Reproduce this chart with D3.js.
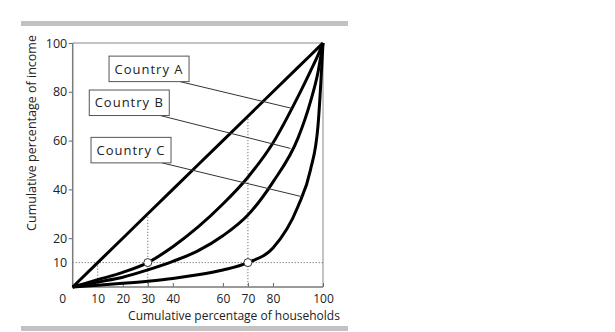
<!DOCTYPE html>
<html>
<head>
<meta charset="utf-8">
<script src="https://cdn.jsdelivr.net/npm/d3@7"></script>
<style>
  html, body { margin: 0; padding: 0; background: #fff; }
  svg { display: block; }
  text { font-family: "Open Sans", "DejaVu Sans", sans-serif; fill: #222; }
</style>
</head>
<body>
<svg id="chart" width="615" height="332"></svg>
<script>
// ---- data ----
const xPct = [0, 10, 20, 30, 40, 50, 60, 70, 80, 90, 95, 98, 100];
const equality = [0, 10, 20, 30, 40, 50, 60, 70, 80, 90, 95, 98, 100];
const countryA = [0, 3, 6, 10, 16.5, 24.5, 34, 45, 59, 78, 88.5, 95, 100];
const countryB = [0, 2, 4, 7, 10.5, 14.8, 21, 29.5, 43, 61, 76, 88, 100];
const countryC = [0, 0.7, 1.5, 2.4, 3.5, 5, 7, 10, 16, 33, 48, 66, 100];

const countryNames = ["Country A", "Country B", "Country C"];
const labelBoxX = [30.5, 22.6, 23.3];      // box centres (data units)
const labelBoxY = [89.4, 75.5, 56.1];
const labelTargetX = [87.6, 87.0, 91.6];   // leader-line ends on each curve
const labelTargetY = [73.2, 56.8, 37.0];

const xTicks = [10, 20, 30, 40, 60, 70, 80, 100];
const yTicks = [10, 20, 40, 60, 80, 100];
const guideX = [10, 30, 70];               // dotted drops to the x-axis
const guideY = 10;                         // dotted horizontal at 10%
const markX = [30, 70];                    // open circles
const markY = [10, 10];

const xTitle = "Cumulative percentage of households";
const yTitle = "Cumulative percentage of income";

// ---- layout ----
const svg = d3.select("#chart");
const x = d3.scaleLinear().domain([0, 100]).range([72.7, 323]);
const y = d3.scaleLinear().domain([0, 100]).range([287, 43]);
const FS = 12;

// grey rules top and bottom
svg.append("rect").attr("x", 21).attr("y", 21).attr("width", 327).attr("height", 5).attr("fill", "#c2c2c2");
svg.append("rect").attr("x", 21).attr("y", 326).attr("width", 327).attr("height", 5).attr("fill", "#c2c2c2");

// frame (top & right)
svg.append("path")
  .attr("d", `M${x(0)},${y(100)}H${x(100)}V${y(0)}`)
  .attr("fill", "none").attr("stroke", "#8a8a8a").attr("stroke-width", 1);

// dotted guides
const g = svg.append("g").attr("stroke", "#555").attr("stroke-width", 1).attr("stroke-dasharray", "1,2").attr("fill", "none");
g.append("line").attr("x1", x(0)).attr("x2", x(100)).attr("y1", y(guideY)).attr("y2", y(guideY));
g.selectAll("line.v").data(guideX).join("line").attr("class", "v")
  .attr("x1", d => x(d)).attr("x2", d => x(d)).attr("y1", d => y(d)).attr("y2", y(0));

// axes
const yAxis = d3.axisLeft(y).tickValues(yTicks).tickSize(4).tickPadding(1.5).tickFormat(d3.format("d"));
const yg = svg.append("g").attr("transform", `translate(${x(0)},0)`).call(yAxis);
yg.select(".domain").remove();
yg.selectAll(".tick line").attr("stroke", "#666").filter(d => d === 10).remove();
yg.selectAll(".tick text").attr("font-size", 12.5).attr("font-family", "Open Sans, sans-serif").attr("fill", "#222");

const xAxis = d3.axisBottom(x).tickValues(xTicks).tickSizeInner(-4).tickSizeOuter(0).tickPadding(7).tickFormat(d3.format("d"));
const xg = svg.append("g").attr("transform", `translate(0,${y(0)})`).call(xAxis);
xg.select(".domain").remove();
xg.selectAll(".tick line").attr("stroke", "#666");
xg.selectAll(".tick text").attr("font-size", FS).attr("font-family", "Open Sans, sans-serif").attr("fill", "#222")
  .attr("y", 16).attr("dy", null);

svg.append("text").attr("x", x(0) - 10).attr("y", y(0) + 16)
  .attr("text-anchor", "middle").attr("font-size", FS).text("0");

// axis lines (left & bottom)
svg.append("path")
  .attr("d", `M${x(0)},${y(100)}V${y(0)}H${x(100)}`)
  .attr("fill", "none").attr("stroke", "#7a7a7a").attr("stroke-width", 1.5);

// curves
const line = d3.line().x((d, i) => x(xPct[i])).y(d => y(d)).curve(d3.curveMonotoneX);
const straight = d3.line().x((d, i) => x(xPct[i])).y(d => y(d));
svg.append("path").datum(equality).attr("d", straight)
  .attr("fill", "none").attr("stroke", "#000").attr("stroke-width", 3);
[countryA, countryB, countryC].forEach(s => {
  svg.append("path").datum(s).attr("d", line)
    .attr("fill", "none").attr("stroke", "#000").attr("stroke-width", 3).attr("stroke-linejoin", "round");
});

// circles
svg.selectAll("circle.mk").data(markX).join("circle").attr("class", "mk")
  .attr("cx", d => x(d)).attr("cy", (d, i) => y(markY[i])).attr("r", 4)
  .attr("fill", "#fff").attr("stroke", "#333").attr("stroke-width", 1);

// labels with leader lines
const boxW = 80, boxH = 25.5;
countryNames.forEach((name, i) => {
  const cx = x(labelBoxX[i]), cy = y(labelBoxY[i]);
  const right = cx + boxW / 2, bottom = cy + boxH / 2;
  svg.append("line")
    .attr("x1", right - 9).attr("y1", bottom)
    .attr("x2", x(labelTargetX[i])).attr("y2", y(labelTargetY[i]))
    .attr("stroke", "#333").attr("stroke-width", 1);
  svg.append("rect")
    .attr("x", cx - boxW / 2).attr("y", cy - boxH / 2).attr("width", boxW).attr("height", boxH)
    .attr("fill", "#fff").attr("stroke", "#555").attr("stroke-width", 1);
  svg.append("text").attr("x", cx).attr("y", cy).attr("dy", "0.36em")
    .attr("text-anchor", "middle").attr("font-size", 13).attr("letter-spacing", 1)
    .text(name);
});

// axis titles
svg.append("text").attr("x", 234).attr("y", 320).attr("text-anchor", "middle")
  .attr("font-size", FS).text(xTitle);
svg.append("text").attr("transform", "translate(36,133) rotate(-90)")
  .attr("text-anchor", "middle").attr("font-size", 12.5).text(yTitle);
</script>
</body>
</html>
